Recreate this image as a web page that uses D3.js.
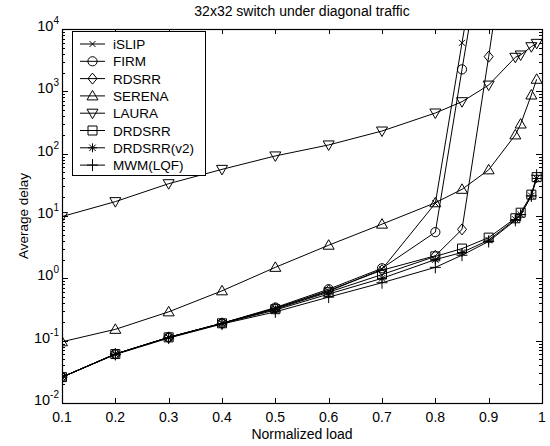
<!DOCTYPE html>
<html>
<head>
<meta charset="utf-8">
<script src="https://cdn.jsdelivr.net/npm/d3@7"></script>
<style>
  body { margin: 0; background: #fff; }
  svg { display: block; font-family: "Liberation Sans", Arial, Helvetica, sans-serif; }
</style>
</head>
<body>
<div id="chart"></div>
<script>
// 32x32 switch under diagonal traffic - average delay vs normalized load

const loads = [0.1, 0.2, 0.3, 0.4, 0.5, 0.6, 0.7, 0.8, 0.85, 0.9, 0.95, 0.96, 0.98, 0.99];

// null = no point (curve already left the chart)
const iSLIP    = [0.026, 0.061, 0.113, 0.19, 0.33, 0.62, 1.4, 16, 6000, 2e6, null, null, null, null];
const FIRM     = [0.026, 0.061, 0.113, 0.19, 0.34, 0.67, 1.45, 5.5, 2250, 8e5, null, null, null, null];
const RDSRR    = [0.026, 0.061, 0.113, 0.19, 0.33, 0.64, 1.35, 2.3, 6.1, 3600, 3e6, null, null, null];
const SERENA   = [0.096, 0.152, 0.29, 0.63, 1.5, 3.4, 7.4, 16.3, 26.8, 55, 200, 299, 873, 1560];
const LAURA    = [9.8, 17, 33, 56, 92, 138, 231, 449, 682, 1260, 3515, 3830, 5200, 5890];
const DRDSRR   = [0.026, 0.061, 0.113, 0.19, 0.32, 0.6, 1.15, 2.25, 3.0, 4.5, 9.2, 11.3, 22, 42];
const DRDSRRv2 = [0.026, 0.061, 0.112, 0.188, 0.31, 0.56, 1.0, 2.0, 2.6, 4.1, 8.8, 10.6, 21, 40];
const MWM      = [0.026, 0.06, 0.11, 0.185, 0.29, 0.5, 0.85, 1.5, 2.35, 3.9, 8.5, 10.5, 21, 45];

const seriesNames = ["iSLIP", "FIRM", "RDSRR", "SERENA", "LAURA", "DRDSRR", "DRDSRR(v2)", "MWM(LQF)"];
const seriesValues = [iSLIP, FIRM, RDSRR, SERENA, LAURA, DRDSRR, DRDSRRv2, MWM];

const xTicks = [0.1, 0.2, 0.3, 0.4, 0.5, 0.6, 0.7, 0.8, 0.9, 1];
const xTickLabels = ["0.1", "0.2", "0.3", "0.4", "0.5", "0.6", "0.7", "0.8", "0.9", "1"];
const yExponents = [-2, -1, 0, 1, 2, 3, 4];

const titleText = "32x32 switch under diagonal traffic";
const xTitle = "Normalized load";
const yTitle = "Average delay";

// marker shapes, one per series
const markerPaths = {
  "iSLIP": "M-3,-3L3,3M-3,3L3,-3",
  "FIRM": "M4.6,0A4.6,4.6 0 1,1 -4.6,0A4.6,4.6 0 1,1 4.6,0Z",
  "RDSRR": "M0,-5.5L4.5,0L0,5.5L-4.5,0Z",
  "SERENA": "M0,-5.5L5.5,4L-5.5,4Z",
  "LAURA": "M0,5.5L5.5,-4L-5.5,-4Z",
  "DRDSRR": "M-4.5,-4.5H4.5V4.5H-4.5Z",
  "DRDSRR(v2)": "M-4.5,0H4.5M0,-4.5V4.5M-3.2,-3.2L3.2,3.2M-3.2,3.2L3.2,-3.2",
  "MWM(LQF)": "M-5.5,0H5.5M0,-6V6"
};

const width = 550, height = 446;
const margin = { left: 62, right: 8, top: 29, bottom: 43 };

const svg = d3.select("#chart").append("svg")
  .attr("width", width)
  .attr("height", height);

const x = d3.scaleLinear().domain([0.1, 1]).range([margin.left, width - margin.right]);
const y = d3.scaleLog().domain([1e-2, 1e4]).range([height - margin.bottom, margin.top]);

const x0 = x.range()[0], x1 = x.range()[1];
const y0 = y.range()[0], y1 = y.range()[1];

svg.append("defs").append("clipPath").attr("id", "plot-clip")
  .append("rect")
  .attr("x", x0).attr("y", y1)
  .attr("width", x1 - x0).attr("height", y0 - y1);

// === Ticks (inward, on all four sides) ===
const tickG = svg.append("g").attr("stroke", "#000").attr("stroke-width", 1);

xTicks.forEach(t => {
  const px = Math.round(x(t)) + 0.5;
  tickG.append("line").attr("x1", px).attr("x2", px).attr("y1", y0).attr("y2", y0 - 5);
  tickG.append("line").attr("x1", px).attr("x2", px).attr("y1", y1).attr("y2", y1 + 5);
});

yExponents.forEach(e => {
  const v = Math.pow(10, e);
  const py = Math.round(y(v)) + 0.5;
  tickG.append("line").attr("x1", x0).attr("x2", x0 + 6).attr("y1", py).attr("y2", py);
  tickG.append("line").attr("x1", x1).attr("x2", x1 - 6).attr("y1", py).attr("y2", py);
  if (e < 4) {
    for (let m = 2; m <= 9; m++) {
      const my = Math.round(y(m * v)) + 0.5;
      tickG.append("line").attr("x1", x0).attr("x2", x0 + 3).attr("y1", my).attr("y2", my);
      tickG.append("line").attr("x1", x1).attr("x2", x1 - 3).attr("y1", my).attr("y2", my);
    }
  }
});

// === Tick labels ===
svg.append("g")
  .selectAll("text")
  .data(xTicks)
  .join("text")
  .attr("x", d => x(d))
  .attr("y", y0 + 19)
  .attr("text-anchor", "middle")
  .attr("font-size", 14)
  .text((d, i) => xTickLabels[i]);

const yLab = svg.append("g")
  .selectAll("text")
  .data(yExponents)
  .join("text")
  .attr("x", 59)
  .attr("y", d => y(Math.pow(10, d)) + 2)
  .attr("text-anchor", "end")
  .attr("font-size", 14.5);
yLab.append("tspan").text("10");
yLab.append("tspan")
  .attr("font-size", 10)
  .attr("dy", -7)
  .text(d => d);

// === Titles ===
svg.append("text")
  .attr("x", (x0 + x1) / 2)
  .attr("y", 16)
  .attr("text-anchor", "middle")
  .attr("font-size", 14)
  .text(titleText);

svg.append("text")
  .attr("x", (x0 + x1) / 2)
  .attr("y", 439)
  .attr("text-anchor", "middle")
  .attr("font-size", 14)
  .text(xTitle);

svg.append("text")
  .attr("transform", `translate(28,${(y0 + y1) / 2}) rotate(-90)`)
  .attr("text-anchor", "middle")
  .attr("font-size", 13.5)
  .text(yTitle);

// === Series ===
const line = d3.line()
  .defined(d => d.v != null)
  .x(d => x(d.load))
  .y(d => y(d.v));

const plot = svg.append("g").attr("clip-path", "url(#plot-clip)");

seriesNames.forEach((name, si) => {
  const pts = loads.map((l, i) => ({ load: l, v: seriesValues[si][i] }));
  plot.append("path")
    .datum(pts)
    .attr("fill", "none")
    .attr("stroke", "#000")
    .attr("stroke-width", 1)
    .attr("d", line);
  plot.append("g")
    .selectAll("path")
    .data(pts.filter(d => d.v != null))
    .join("path")
    .attr("transform", d => `translate(${x(d.load)},${y(d.v)})`)
    .attr("d", markerPaths[name])
    .attr("fill", "none")
    .attr("stroke", "#000")
    .attr("stroke-width", 1);
});

// === Plot frame ===
svg.append("rect")
  .attr("x", x0 + 0.5).attr("y", y1 + 0.5)
  .attr("width", x1 - x0).attr("height", y0 - y1)
  .attr("fill", "none")
  .attr("stroke", "#000")
  .attr("stroke-width", 1.2);

// === Legend ===
const legend = svg.append("g");
legend.append("rect")
  .attr("x", 72.5).attr("y", 31.5)
  .attr("width", 133).attr("height", 144)
  .attr("fill", "#fff")
  .attr("stroke", "#000")
  .attr("stroke-width", 1);

const entry = legend.selectAll("g.entry")
  .data(seriesNames)
  .join("g")
  .attr("class", "entry")
  .attr("transform", (d, i) => `translate(0,${44 + i * 17.3})`);

entry.append("line")
  .attr("x1", 80).attr("x2", 105)
  .attr("stroke", "#000").attr("stroke-width", 1);
entry.append("path")
  .attr("transform", "translate(92.5,0)")
  .attr("d", d => markerPaths[d])
  .attr("fill", "none")
  .attr("stroke", "#000")
  .attr("stroke-width", 1);
entry.append("text")
  .attr("x", 113)
  .attr("y", 5)
  .attr("font-size", 13.5)
  .text(d => d);
</script>
</body>
</html>
